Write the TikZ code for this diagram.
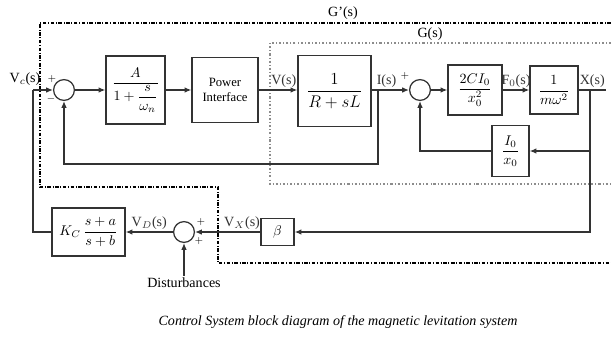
\documentclass[tikz,border=0pt]{standalone}
\usepackage{amsmath}
\usepackage{fontspec}
\setmainfont{Liberation Serif}
\usetikzlibrary{arrows.meta, positioning, calc}

\begin{document}
\begin{tikzpicture}[
    x=0.025cm, y=-0.025cm,
    font=\normalsize,
    %% block styles
    blk/.style={draw=black!80, line width=0.9pt, align=center, inner sep=1pt},
    sumpt/.style={draw=black!80, line width=0.9pt, circle, minimum size=5.2mm, inner sep=0pt},
    %% arrow styles
    flow/.style={-{Latex[length=1.7mm, width=1.4mm]}, line width=0.9pt, black!80},
    wire/.style={line width=0.9pt, black!80},
    %% boundary styles
    outerbox/.style={line width=0.8pt, dash pattern=on 2.5pt off 1.2pt on 0.6pt off 1.2pt},
    innerbox/.style={black!45, line width=0.8pt, dash pattern=on 1.5pt off 1.5pt on 0.6pt off 1.5pt},
    %% label styles
    lbl/.style={inner sep=1.5pt},
    sgn/.style={font=\scriptsize, inner sep=0pt}
]
    \useasboundingbox (0,0) rectangle (611,342);

    %% --- boundaries -------------------------------------------
    \draw[outerbox] (611,23) -- (40,23) -- (40,187) -- (218,187) -- (218,263) -- (611,263);
    \draw[innerbox] (611,43) -- (270,43) -- (270,184) -- (611,184);
    \node[lbl] (gpl) at (343,13) {G'(s)};
    \node[lbl] (gl)  at (430,34) {G(s)};

    %% --- forward path -----------------------------------------
    \node[sumpt] (sumv) at (64,90) {};
    \node[blk, minimum width=1.475cm, minimum height=1.7cm] (ampblk) at (135.5,90)
        {$\dfrac{A}{1+\dfrac{s}{\omega_n}}$};
    \node[blk, minimum width=1.65cm, minimum height=1.625cm, font=\small] (pwrblk) at (225,90)
        {Power\\Interface};
    \node[blk, minimum width=1.825cm, minimum height=1.775cm, font=\large] (coilblk) at (334.5,91)
        {$\dfrac{1}{R+sL}$};
    \node[sumpt] (sumi) at (420,90) {};
    \node[blk, minimum width=1.35cm, minimum height=1.25cm] (forceblk) at (475,90)
        {$\dfrac{2CI_0}{x_0^2}$};
    \node[blk, minimum width=1.2cm, minimum height=1.2cm] (massblk) at (554,90)
        {$\dfrac{1}{m\omega^2}$};
    \node[blk, minimum width=0.925cm, minimum height=1.275cm] (fbblk) at (510.5,151)
        {$\dfrac{I_0}{x_0}$};

    \coordinate (ibr)  at (378,90);
    \coordinate (xbr)  at (590,90);
    \coordinate (xout) at (606,90);

    %% --- sensor / controller path -----------------------------
    \node[blk, minimum width=1.825cm, minimum height=1.2cm] (kcblk) at (88.5,232)
        {$K_C\,\dfrac{s+a}{s+b}$};
    \node[sumpt] (sumd) at (184,232) {};
    \node[blk, minimum width=0.825cm, minimum height=0.675cm] (betablk) at (277.5,232) {$\beta$};
    \node[lbl] (dist) at (184,283) {Disturbances};
    \coordinate (vcin) at (33,90);

    %% --- arrows: forward ---------------------------------------
    \draw[flow] (vcin) -- (sumv.west);
    \draw[flow] (sumv.east) -- (ampblk.west);
    \draw[flow] (ampblk.east) -- (pwrblk.west);
    \draw[flow] (pwrblk.east) -- node[lbl, above, pos=0.65] {V(s)} (pwrblk.east -| coilblk.west);
    \draw[flow] (coilblk.east |- ibr) -- node[lbl, above, pos=0.4] {I(s)} (sumi.west);
    \draw[flow] (sumi.east) -- (forceblk.west);
    \draw[flow] (forceblk.east) -- node[lbl, above] {F$_0$(s)} (massblk.west);
    \draw[wire] (massblk.east) -- node[lbl, above] {X(s)} (xout);

    %% --- arrows: feedback -------------------------------------
    \draw[flow] (ibr) -- ++(0,74) -| (sumv.south);
    \draw[flow] (xbr) |- (fbblk.east);
    \draw[flow] (fbblk.west) -| (sumi.south);
    \draw[flow] (xbr) |- (betablk.east);
    \draw[flow] (betablk.west) -- node[lbl, above, pos=0.28] {V$_X$(s)} (sumd.east);
    \draw[flow] (sumd.west) -- node[lbl, above] {V$_D$(s)} (kcblk.east);
    \draw[flow] (dist.north) -- (sumd.south);
    \draw[wire] (kcblk.west) -| (vcin);
    \node[lbl, anchor=south] (vcl) at (25,88) {V$_c$(s)};

    %% --- signs ------------------------------------------------
    \node[sgn] at (52,79) {$+$};
    \node[sgn] at (51,99) {$-$};
    \node[sgn] at (405,76) {$+$};
    \node[sgn] at (201,222) {$+$};
    \node[sgn] at (199,241) {$+$};

    %% --- caption ----------------------------------------------
    \node[font=\normalsize\itshape] (caption) at (338,322)
        {Control System block diagram of the magnetic levitation system};
\end{tikzpicture}
\end{document}
